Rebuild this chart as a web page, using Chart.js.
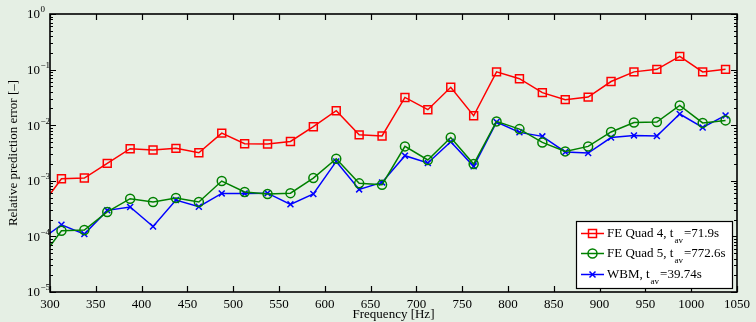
<!DOCTYPE html>
<html>
<head>
<meta charset="utf-8">
<script src="https://cdn.jsdelivr.net/npm/chart.js@4.4.1/dist/chart.umd.min.js"></script>
<style>
  html, body { margin: 0; padding: 0; background: #e5efe4; }
  #wrap { width: 756px; height: 322px; }
</style>
</head>
<body>
<div id="wrap"><canvas id="errChart" width="756" height="322"></canvas></div>
<script>
// ------------------------
// Data
// ------------------------

const freqs = [287.5, 312.5, 337.5, 362.5, 387.5, 412.5, 437.5, 462.5, 487.5, 512.5,
  537.5, 562.5, 587.5, 612.5, 637.5, 662.5, 687.5, 712.5, 737.5, 762.5,
  787.5, 812.5, 837.5, 862.5, 887.5, 912.5, 937.5, 962.5, 987.5, 1012.5, 1037.5];

const feQuad4 = [3.0e-4, 1.09e-3, 1.12e-3, 2.06e-3, 3.78e-3, 3.58e-3, 3.83e-3, 3.2e-3, 7.2e-3, 4.65e-3,
  4.6e-3, 5.1e-3, 9.4e-3, 1.82e-2, 6.7e-3, 6.4e-3, 3.16e-2, 1.9e-2, 4.8e-2, 1.48e-2,
  9.1e-2, 6.86e-2, 3.85e-2, 2.88e-2, 3.2e-2, 6.1e-2, 9.1e-2, 0.101, 0.173, 9.1e-2, 0.101];

const feQuad5 = [3.5e-5, 1.26e-4, 1.3e-4, 2.75e-4, 4.76e-4, 4.15e-4, 4.9e-4, 4.15e-4, 9.9e-4, 6.3e-4,
  5.8e-4, 6.0e-4, 1.12e-3, 2.5e-3, 9.0e-4, 8.5e-4, 4.16e-3, 2.37e-3, 6.0e-3, 2.0e-3,
  1.17e-2, 8.5e-3, 4.9e-3, 3.38e-3, 4.16e-3, 7.55e-3, 1.12e-2, 1.14e-2, 2.27e-2, 1.1e-2, 1.22e-2];

const wbm = [8.1e-5, 1.62e-4, 1.1e-4, 2.94e-4, 3.38e-4, 1.51e-4, 4.5e-4, 3.42e-4, 5.94e-4, 5.94e-4,
  6.0e-4, 3.77e-4, 5.8e-4, 2.23e-3, 7.0e-4, 9.35e-4, 2.83e-3, 2.09e-3, 5.05e-3, 1.82e-3,
  1.14e-2, 7.43e-3, 6.3e-3, 3.3e-3, 3.16e-3, 6.0e-3, 6.55e-3, 6.4e-3, 1.59e-2, 9.1e-3, 1.5e-2];

const xTicks = [300, 350, 400, 450, 500, 550, 600, 650, 700, 750, 800, 850, 900, 950, 1000, 1050];
const yDecades = [-5, -4, -3, -2, -1, 0];

// legend text: name, subscript, rest
const legendNames = ['FE Quad 4, t', 'FE Quad 5, t', 'WBM, t'];
const legendSubs = ['av', 'av', 'av'];
const legendRest = ['=71.9s', '=772.6s', '=39.74s'];

const colors = ['#ff0000', '#008000', '#0000ff'];
const SERIF = "'Liberation Serif', 'Times New Roman', serif";

function toPoints(vals) {
  return vals.map((v, i) => ({ x: freqs[i], y: v }));
}

// ------------------------
// Marker helper (legend)
// ------------------------
function drawMarker(ctx, kind, cx, cy, color) {
  ctx.save();
  ctx.strokeStyle = color;
  ctx.lineWidth = 1.5;
  ctx.beginPath();
  if (kind === 'rect') {
    ctx.rect(cx - 4, cy - 4, 8, 8);
  } else if (kind === 'circle') {
    ctx.arc(cx, cy, 4.5, 0, Math.PI * 2);
  } else {
    ctx.moveTo(cx - 3, cy - 3); ctx.lineTo(cx + 3, cy + 3);
    ctx.moveTo(cx + 3, cy - 3); ctx.lineTo(cx - 3, cy + 3);
  }
  ctx.stroke();
  ctx.restore();
}

// ------------------------
// Frame, inner ticks, y labels, legend
// ------------------------
const framePlugin = {
  id: 'frame',
  beforeDraw(chart) {
    const ctx = chart.ctx;
    ctx.save();
    ctx.fillStyle = '#e5efe4';
    ctx.fillRect(0, 0, chart.width, chart.height);
    ctx.restore();
  },
  afterDraw(chart) {
    const { ctx, chartArea: a, scales: { x, y } } = chart;
    ctx.save();
    ctx.strokeStyle = '#000';
    ctx.lineWidth = 1.6;
    ctx.strokeRect(Math.round(a.left), Math.round(a.top),
      Math.round(a.right - a.left), Math.round(a.bottom - a.top));

    // x major ticks, top and bottom
    ctx.lineWidth = 1.2;
    ctx.beginPath();
    xTicks.forEach(v => {
      const px = Math.round(x.getPixelForValue(v)) + 0.5;
      ctx.moveTo(px, a.bottom); ctx.lineTo(px, a.bottom - 6);
      ctx.moveTo(px, a.top); ctx.lineTo(px, a.top + 6);
    });
    // y log ticks, left and right
    yDecades.forEach(e => {
      for (let m = 1; m <= 9; m++) {
        const v = m * Math.pow(10, e);
        if (v > 1.0001) break;
        const py = Math.round(y.getPixelForValue(v)) + 0.5;
        const len = m === 1 ? 6 : 3;
        ctx.moveTo(a.left, py); ctx.lineTo(a.left + len, py);
        ctx.moveTo(a.right, py); ctx.lineTo(a.right - len, py);
      }
    });
    ctx.stroke();

    // y tick labels 10^e
    ctx.fillStyle = '#000';
    ctx.textBaseline = 'middle';
    ctx.textAlign = 'left';
    yDecades.forEach(e => {
      const py = y.getPixelForValue(Math.pow(10, e));
      ctx.font = '13px ' + SERIF;
      ctx.fillText('10', 27, py + 1);
      const w = ctx.measureText('10').width;
      ctx.font = '9px ' + SERIF;
      ctx.fillText(e === 0 ? '0' : '\u2212' + (-e), 27 + w + 0.5, py - 4);
    });

    // legend box
    const bx = 576, by = 221, bw = 156, bh = 67;
    ctx.fillStyle = '#ffffff';
    ctx.fillRect(bx, by, bw, bh);
    ctx.lineWidth = 1.2;
    ctx.strokeRect(bx + 0.5, by + 0.5, bw, bh);
    const rows = [233.5, 253.5, 274.5];
    const kinds = ['rect', 'circle', 'cross'];
    legendNames.forEach((name, i) => {
      const ry = rows[i];
      ctx.strokeStyle = colors[i];
      ctx.lineWidth = 1.5;
      ctx.beginPath();
      ctx.moveTo(581, ry); ctx.lineTo(604, ry);
      ctx.stroke();
      drawMarker(ctx, kinds[i], 592.5, ry, colors[i]);

      ctx.fillStyle = '#000';
      ctx.font = '13px ' + SERIF;
      ctx.fillText(name, 607, ry);
      let tx = 607 + ctx.measureText(name).width + 1;
      ctx.font = '9px ' + SERIF;
      ctx.fillText(legendSubs[i], tx, ry + 7);
      tx += ctx.measureText(legendSubs[i]).width + 1;
      ctx.font = '13px ' + SERIF;
      ctx.fillText(legendRest[i], tx, ry);
    });
    ctx.restore();
  }
};

// ------------------------
// Chart.js Setup
// ------------------------
const errChart = new Chart(document.getElementById('errChart'), {
  type: 'line',
  data: {
    datasets: [
      {
        label: 'FE Quad 4',
        data: toPoints(feQuad4),
        borderColor: colors[0],
        backgroundColor: 'transparent',
        borderWidth: 1.5,
        pointStyle: 'rect',
        pointRadius: 5.6,
        pointBorderWidth: 1.5,
        pointBorderColor: colors[0],
        clip: 0
      },
      {
        label: 'FE Quad 5',
        data: toPoints(feQuad5),
        borderColor: colors[1],
        backgroundColor: 'transparent',
        borderWidth: 1.5,
        pointStyle: 'circle',
        pointRadius: 4.5,
        pointBorderWidth: 1.5,
        pointBorderColor: colors[1],
        clip: 0
      },
      {
        label: 'WBM',
        data: toPoints(wbm),
        borderColor: colors[2],
        backgroundColor: 'transparent',
        borderWidth: 1.5,
        pointStyle: 'crossRot',
        pointRadius: 4.2,
        pointBorderWidth: 1.5,
        pointBorderColor: colors[2],
        clip: 0
      }
    ]
  },
  options: {
    responsive: false,
    animation: false,
    layout: { padding: { left: 4, top: 14, right: 19, bottom: 0 } },
    plugins: { legend: { display: false }, tooltip: { enabled: false } },
    scales: {
      x: {
        type: 'linear',
        min: 300,
        max: 1050,
        grid: { display: false, drawTicks: false },
        border: { display: false },
        ticks: {
          stepSize: 50,
          padding: 5,
          color: '#000',
          maxRotation: 0,
          autoSkip: false,
          font: { family: SERIF, size: 13 },
          callback: v => String(v)
        },
        title: {
          display: true,
          text: 'Frequency [Hz]',
          color: '#000',
          padding: { top: 0, bottom: 0 },
          font: { family: SERIF, size: 13 }
        },
        afterFit(scale) { scale.height = 30; }
      },
      y: {
        type: 'logarithmic',
        min: 1e-5,
        max: 1,
        grid: { display: false, drawTicks: false },
        border: { display: false },
        ticks: { display: false },
        title: {
          display: true,
          text: 'Relative prediction error [\u2013]',
          color: '#000',
          padding: 2,
          font: { family: SERIF, size: 13 }
        },
        afterFit(scale) { scale.width = 46; }
      }
    }
  },
  plugins: [framePlugin]
});
</script>
</body>
</html>
